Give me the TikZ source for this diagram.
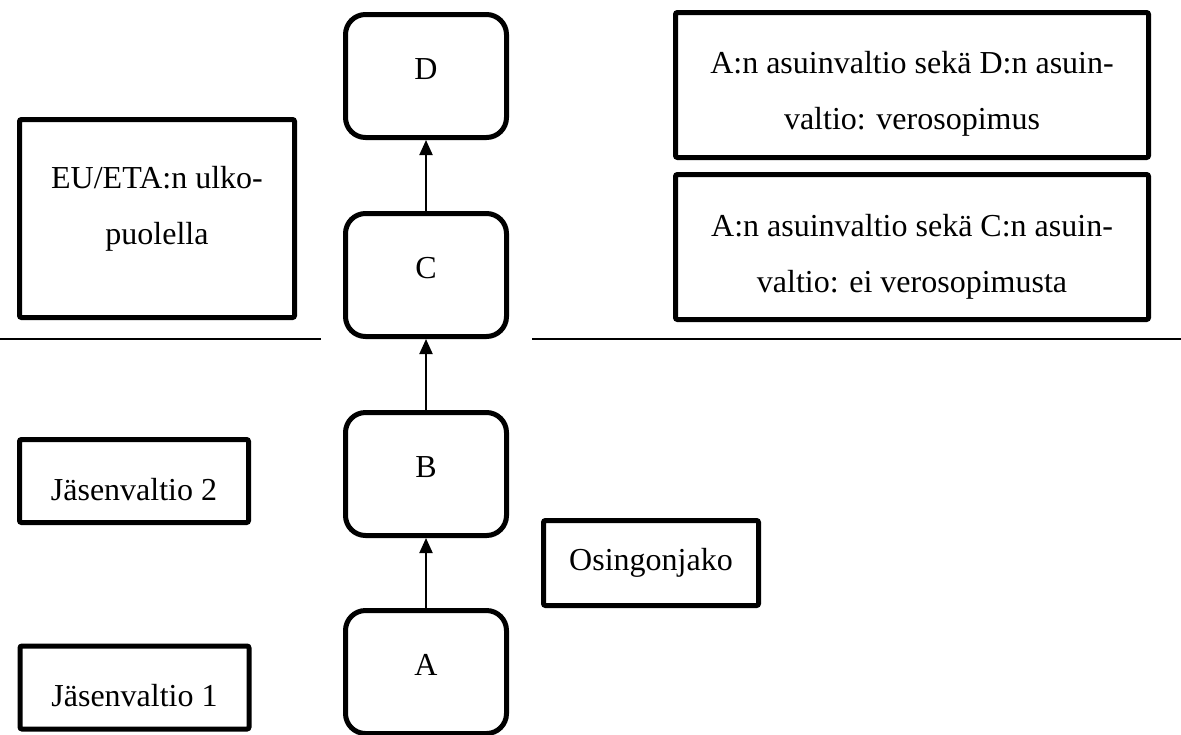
\documentclass[tikz,border=0pt]{standalone}
\usepackage{fontspec}
\setmainfont{Liberation Serif}
\usetikzlibrary{arrows.meta}

\begin{document}
\begin{tikzpicture}[
    x=0.5pt,
    y=-0.5pt,
    every node/.style={
        font=\fontsize{16}{28}\selectfont,
        align=center
    },
    company/.style={
        draw=black,
        line width=2.5pt,
        rounded corners=10pt,
        minimum width=80.5pt,
        minimum height=61.5pt,
        text height=11pt,
        text depth=8pt
    },
    tag/.style={
        draw=black,
        line width=2.5pt,
        rounded corners=1pt
    },
    flow/.style={
        -{Triangle[width=6.5pt,length=7.5pt]},
        line width=1pt
    },
    divider/.style={
        line width=1.25pt
    }
]

\useasboundingbox (0,0) rectangle (1181,734);

% Company chain from bottom to top
\node[company] (A) at (426,672) {A};
\node[company] (B) at (426,474) {B};
\node[company] (C) at (426,275) {C};
\node[company] (D) at (426,76) {D};

\draw[flow] (A) -- (B);
\draw[flow] (B) -- (C);
\draw[flow] (C) -- (D);

% Border between EU/ETA and the rest
\draw[divider] (0,339) -- (321,339);
\draw[divider] (532,339) -- (1181,339);

% Labels on the left
\node[tag, minimum width=137.5pt, minimum height=99pt]
    (outside) at (157,218.5)
    {EU/ETA:n ulko-\\puolella\rule[-13.5pt]{0pt}{13.5pt}};
\node[tag, minimum width=114.5pt, minimum height=41.5pt,
      text height=21pt, text depth=2pt]
    (state2) at (134,481) {Jäsenvaltio 2};
\node[tag, minimum width=114.5pt, minimum height=41.5pt,
      text height=21pt, text depth=2pt]
    (state1) at (134.5,687.5) {Jäsenvaltio 1};

% Labels on the right
\node[tag, minimum width=107.5pt, minimum height=42.5pt]
    (dividend) at (651,563) {Osingonjako};
\node[tag, minimum width=236.5pt, minimum height=72.5pt]
    (treatyD) at (912,85)
    {\rule{0pt}{19.5pt}A:n asuinvaltio sekä D:n asuin-\\valtio: verosopimus};
\node[tag, minimum width=236.5pt, minimum height=72.5pt]
    (treatyC) at (912,247)
    {\rule{0pt}{20.5pt}A:n asuinvaltio sekä C:n asuin-\\valtio: ei verosopimusta};
\end{tikzpicture}
\end{document}
